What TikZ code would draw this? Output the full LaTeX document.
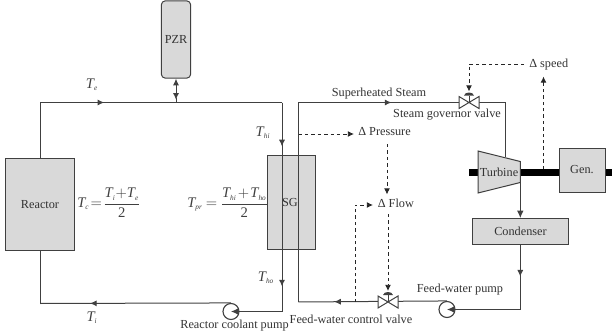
\documentclass[tikz,border=0pt]{standalone}
\usepackage{fontspec}
\setmainfont{Liberation Serif}
\usetikzlibrary{arrows.meta,decorations.markings}
\definecolor{colBox}{HTML}{D9D9D9}
\definecolor{colLine}{HTML}{404040}
\def\lblfont{\fontsize{9.2pt}{11pt}\selectfont}
\def\eqfont{\fontsize{11pt}{13pt}\selectfont}
\tikzset{
  blockbox/.style={draw=colLine, fill=colBox, line width=0.75pt, font=\lblfont, text=black!80, inner sep=0pt},
  pipe/.style={draw=colLine, line width=0.75pt},
  pipetip/.style={pipe, -{Latex[length=5.5pt,width=5pt]}},
  ctrl/.style={draw=black!85, line width=0.65pt, dash pattern=on 2.6pt off 2.2pt, -{Latex[length=4.6pt,width=4.4pt]}},
  lbl/.style={font=\lblfont, text=black!80, inner sep=0pt},
  eqn/.style={font=\eqfont, text=black!75, inner sep=0pt},
  pumpdisc/.style={circle, draw=colLine, fill=white, line width=0.85pt, minimum size=12pt, inner sep=0pt},
  midtip/.style={postaction={decorate}, decoration={markings,
    mark=at position #1 with {\arrow{Latex[length=5pt,width=4.6pt]}}}}
}
\newcommand{\tvar}[1]{\mathit{T}_{\scriptscriptstyle\mathit{#1}}}
\newcommand{\valvesym}[3]{%
  \begin{scope}[shift={(#2,#3)}]
  \draw[pipe, fill=white] (-10,-6) -- (10,6) -- (10,-6) -- (-10,6) -- cycle;
  \draw[pipe] (0,0) -- (0,-7);
  \fill[colLine] (-5,-7) .. controls (-4,-11) and (4,-11) .. (5,-7) -- cycle;
  \coordinate (#1) at (0,0);
  \coordinate (#1top) at (0,-11);
  \end{scope}}
\begin{document}
\begin{tikzpicture}[x=0.75pt,y=-0.75pt]
\useasboundingbox (0,0) rectangle (612,336);

% shaft
\draw[line width=4.6pt, black] (469,172.5) coordinate (shaftl) -- (612,172.5) coordinate (shaftr);

% ===================== BLOCKS =====================
\node[blockbox, rounded corners=3pt, minimum width=22pt, minimum height=58pt] (pzr) at (176,39.5) {PZR};
\node[blockbox, minimum width=52pt, minimum height=68.5pt] (reactor) at (40,204.5) {Reactor};
\node[blockbox, minimum width=36pt, minimum height=70.5pt] (sg) at (291,202) {};
\node[lbl] (sglbl) at (290,202.5) {SG};
\node[blockbox, minimum width=72pt, minimum height=19.5pt] (condenser) at (520.5,231.5) {Condenser};
\node[blockbox, minimum width=34.5pt, minimum height=33pt] (gen) at (582,170) {Gen.};

% turbine
\draw[blockbox] (478,151) coordinate (turbtl) -- (520.3,161.5) coordinate (turbtr)
  -- (520.3,182.5) coordinate (turbbr) -- (478,193) coordinate (turbbl) -- cycle;
\node[lbl] (turbine) at (499,172.5) {Turbine};

% ===================== PRIMARY LOOP =====================
\coordinate (ptl) at (40.5,102.5);
\coordinate (ptr) at (282,102.5);
\coordinate (pzrjoin) at (176,102.5);
\coordinate (pbl) at (40.5,303.5);
\coordinate (pbr) at (282,311.5);
\node[pumpdisc] (rcp) at (231,311.5) {};

\draw[pipe] (reactor.north -| ptl) -- (ptl) -- (ptr);
\draw[pipe, midtip=0.47] (ptl) -- (pzrjoin);
\draw[pipe, midtip=0.21] (ptr) -- (pbr);
\draw[pipe, midtip=0.88] (ptr) -- (pbr);
\draw[pipe] (pbr) -- (rcp.east);
\draw[pipetip] (rcp.east) -- (rcp.center);
\draw[pipe] (reactor.south -| pbl) -- (pbl);
\draw[pipe, midtip=0.74] (rcp.north) -- (pbl);
\draw[pipe, {Latex[length=5pt,width=4.6pt]}-{Latex[length=5pt,width=4.6pt]}] (pzr.south) -- ++(0,21);
\draw[pipe] (pzr.south) ++(0,19) -- (pzrjoin);

% ===================== SECONDARY LOOP =====================
\coordinate (stl) at (298.5,102.5);
\coordinate (str) at (505,102.5);
\coordinate (sbl) at (298.5,302);
\coordinate (cdr) at (520.3,309.5);
\node[pumpdisc] (fwp) at (447,309.5) {};

\draw[pipe] (sbl) -- (stl) -- (str) -- (505,157);
\draw[pipe, midtip=0.45] (stl) -- (str);
\draw[pipe, midtip=0.76] (fwp.north) -- (sbl);
\draw[pipetip] (turbbr) -- (condenser.north -| turbbr);
\draw[pipe, midtip=0.49] (condenser.south -| cdr) -- (cdr);
\draw[pipe] (cdr) -- (fwp.east);
\draw[pipetip] (fwp.east) -- (fwp.center);

\valvesym{sgv}{469}{102.5}
\valvesym{fcv}{388}{302}

% ===================== CONTROL SIGNALS =====================
\node[lbl, anchor=west] (dspeed) at (529,65) {Δ speed};
\node[lbl, anchor=west] (dpress) at (358,131.5) {Δ Pressure};
\node[lbl, anchor=west] (dflow) at (377.5,203) {Δ Flow};

\coordinate (speedup) at (543.5,169);
\coordinate (speedtip) at (543.5,76.5);
\coordinate (govcorner) at (469,64);
\coordinate (govend) at (524,64);
\coordinate (presssrc) at (298.5,134);
\coordinate (presstip) at (354,134);
\coordinate (presstop) at (387,144);
\coordinate (flowtip) at (387,194.5);
\coordinate (flowsrc) at (388,214);
\coordinate (fwsrc) at (355,302);
\coordinate (fwcorner) at (355,205);
\coordinate (fwtip) at (373,205);

\draw[ctrl] (speedup) -- (speedtip);
\draw[ctrl] (govend) -- (govcorner) -- (sgvtop);
\draw[ctrl] (presssrc) -- (presstip);
\draw[ctrl] (presstop) -- (flowtip);
\draw[ctrl] (flowsrc) -- (fcvtop);
\draw[ctrl] (fwsrc) -- (fwcorner) -- (fwtip);

% ===================== LABELS =====================
\node[eqn] (te) at (92,85) {$\tvar{e}$};
\node[eqn] (thi) at (263,133) {$\tvar{hi}$};
\node[eqn] (tho) at (266,277.5) {$\tvar{ho}$};
\node[eqn] (ti) at (92,318) {$\tvar{i}$};
\node[eqn, anchor=west] (tceq) at (77,203) {$\medmuskip=0mu\thickmuskip=1.5mu\displaystyle\tvar{c}=\frac{\tvar{i}+\tvar{e}}{\mathrm{2}}$};
\node[eqn, anchor=west] (tpreq) at (187,203) {$\medmuskip=1.5mu\thickmuskip=4mu\displaystyle\tvar{pr}=\frac{\tvar{hi}+\tvar{ho}}{\mathrm{2}}$};

\node[lbl] (steamlbl) at (379,94) {Superheated Steam};
\node[lbl] (govlbl) at (447,115) {Steam governor valve};
\node[lbl] (rcplbl) at (234.5,325.5) {Reactor coolant pump};
\node[lbl] (fcvlbl) at (351,319) {Feed-water control valve};
\node[lbl] (fwplbl) at (460,290) {Feed-water pump};

\end{tikzpicture}
\end{document}
